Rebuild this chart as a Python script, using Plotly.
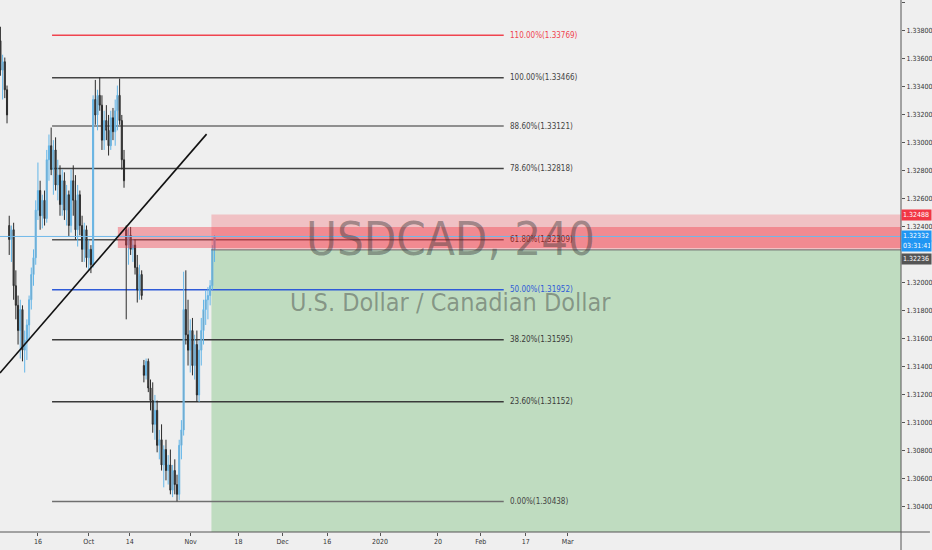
import numpy as np
import plotly.graph_objects as go

# ---------------- data ----------------
opens = [1.3373,1.3352,1.3358,1.3338,1.3241,1.3231,1.3238,1.3198,1.3184,1.3166,
         1.3181,1.3152,1.3159,1.3170,1.3188,1.3206,1.3218,1.3252,1.3266,1.3248,
         1.3259,1.3246,1.3288,1.3298,1.3281,1.3295,1.3270,1.3277,1.3256,1.3273,
         1.3252,1.3263,1.3241,1.3273,1.3259,1.3238,1.3263,1.3241,1.3224,1.3238,
         1.3218,1.3224,1.3213,1.3331,1.3320,1.3334,1.3327,1.3302,1.3316,1.3309,
         1.3298,1.3318,1.3308,1.3323,1.3334,1.3316,1.3288,1.3238,1.3227,1.3234,
         1.3224,1.3227,1.3211,1.3195,1.3206,1.3141,1.3134,1.3144,1.3125,1.3116,
         1.3099,1.3109,1.3084,1.3088,1.3070,1.3081,1.3066,1.3070,1.3052,1.3066,
         1.3056,1.3049,1.3084,1.3095,1.3181,1.3163,1.3152,1.3166,1.3141,1.3156,
         1.3120,1.3152,1.3166,1.3181,1.3188,1.3191,1.3198,1.3224]
highs = [1.3383,1.3363,1.3361,1.3341,1.3248,1.3241,1.3243,1.3209,1.3191,1.3188,
         1.3184,1.3166,1.3174,1.3191,1.3211,1.3224,1.3259,1.3286,1.3273,1.3263,
         1.3266,1.3295,1.3306,1.3311,1.3302,1.3304,1.3288,1.3284,1.3281,1.3279,
         1.3270,1.3266,1.3281,1.3284,1.3277,1.3270,1.3266,1.3248,1.3243,1.3241,
         1.3231,1.3227,1.3334,1.3345,1.3338,1.3347,1.3334,1.3323,1.3327,1.3320,
         1.3323,1.3325,1.3331,1.3341,1.3346,1.3320,1.3295,1.3241,1.3239,1.3240,
         1.3231,1.3231,1.3220,1.3213,1.3209,1.3145,1.3146,1.3146,1.3131,1.3129,
         1.3120,1.3116,1.3095,1.3099,1.3084,1.3088,1.3077,1.3081,1.3070,1.3074,
         1.3063,1.3088,1.3102,1.3208,1.3209,1.3188,1.3174,1.3175,1.3163,1.3166,
         1.3159,1.3175,1.3188,1.3195,1.3197,1.3202,1.3227,1.3234]
lows = [1.3348,1.3331,1.3332,1.3314,1.3220,1.3215,1.3188,1.3174,1.3156,1.3146,
        1.3144,1.3136,1.3145,1.3159,1.3181,1.3198,1.3213,1.3245,1.3238,1.3239,
        1.3241,1.3243,1.3273,1.3277,1.3263,1.3266,1.3259,1.3248,1.3248,1.3245,
        1.3241,1.3233,1.3236,1.3248,1.3231,1.3226,1.3234,1.3215,1.3215,1.3211,
        1.3209,1.3207,1.3211,1.3313,1.3309,1.3323,1.3295,1.3295,1.3302,1.3291,
        1.3295,1.3302,1.3298,1.3309,1.3313,1.3281,1.3268,1.3174,1.3213,1.3220,
        1.3215,1.3206,1.3186,1.3188,1.3188,1.3129,1.3131,1.3122,1.3109,1.3093,
        1.3088,1.3079,1.3074,1.3066,1.3054,1.3059,1.3056,1.3049,1.3047,1.3049,
        1.3044,1.3045,1.3074,1.3091,1.3156,1.3141,1.3136,1.3134,1.3131,1.3115,
        1.3115,1.3141,1.3156,1.3170,1.3174,1.3184,1.3195,1.3215]
closes = [1.3352,1.3358,1.3338,1.3320,1.3231,1.3238,1.3198,1.3184,1.3166,1.3181,
          1.3152,1.3159,1.3170,1.3188,1.3206,1.3218,1.3252,1.3266,1.3248,1.3259,
          1.3246,1.3288,1.3298,1.3281,1.3295,1.3270,1.3277,1.3256,1.3273,1.3252,
          1.3263,1.3241,1.3273,1.3259,1.3238,1.3263,1.3241,1.3224,1.3238,1.3218,
          1.3224,1.3213,1.3331,1.3320,1.3334,1.3327,1.3302,1.3316,1.3309,1.3298,
          1.3318,1.3308,1.3323,1.3334,1.3316,1.3288,1.3273,1.3227,1.3234,1.3224,
          1.3227,1.3211,1.3195,1.3206,1.3191,1.3134,1.3144,1.3125,1.3116,1.3099,
          1.3109,1.3084,1.3088,1.3070,1.3081,1.3066,1.3070,1.3052,1.3066,1.3056,
          1.3049,1.3084,1.3095,1.3181,1.3163,1.3152,1.3166,1.3141,1.3156,1.3120,
          1.3152,1.3166,1.3181,1.3188,1.3191,1.3198,1.3224,1.3233]

# time axis in trading days from Mon 16 Sep 2019, two bars per day shown
bar_days = np.arange(len(closes)) * 0.5 - 8.5

tick_days = [0, 11.5, 20.8, 34.6, 45.4, 55.4, 65.5, 77.5, 90.6, 100.3, 110.5, 120]
tick_text = ["16", "Oct", "14", "Nov", "18", "Dec", "16", "2020", "20", "Feb", "17", "Mar"]

# price scale labels (1.32200 is hidden behind the entry tag in the original)
price_ticks = [1.304, 1.306, 1.308, 1.310, 1.312, 1.314, 1.316, 1.318, 1.320,
               1.324, 1.326, 1.328, 1.330, 1.332, 1.334, 1.336, 1.338, 1.340]

fib_pct = ["110.00%", "100.00%", "88.60%", "78.60%", "61.80%", "50.00%", "38.20%", "23.60%", "0.00%"]
fib_price = [1.33769, 1.33466, 1.33121, 1.32818, 1.32309, 1.31952, 1.31595, 1.31152, 1.30438]
fib_color = ["#f0444f", "#444444", "#6f6f6f", "#444444", "#555555", "#2f5bd8", "#3a3a3a", "#3a3a3a", "#6f6f6f"]
fib_text_color = ["#f0444f", "#444444", "#444444", "#444444", "#8a2a2a", "#2f5bd8", "#3a3a3a", "#3a3a3a", "#444444"]
fib_start_day, fib_end_day, fib_label_day = 3.2, 105.5, 106.4

trend_days = [-8.6, 38.2]
trend_price = [1.31357, 1.33063]

zone_top, zone_bottom, zone_start = 1.32400, 1.32250, 18.1
stop_price, entry_price, current_price = 1.32488, 1.32236, 1.32332
position_start = 39.3
countdown = "03:31:41"

x_min, x_max = -8.59, 195.48
y_min, y_max = 1.30221, 1.34021

FONT = "Liberation Sans Narrow, DejaVu Sans Condensed, sans-serif"

# ---------------- figure ----------------
fig = go.Figure()

fig.add_trace(go.Candlestick(
    x=bar_days, open=opens, high=highs, low=lows, close=closes,
    increasing=dict(line=dict(color="#64b6e8", width=1), fillcolor="#8c8c8c"),
    decreasing=dict(line=dict(color="#2b2b2b", width=1), fillcolor="#4a4a4a"),
    whiskerwidth=0, showlegend=False, hoverinfo="skip",
))

shapes = []
shapes.append(dict(type="rect", xref="x", yref="y", x0=position_start, x1=x_max,
                   y0=y_min, y1=entry_price, fillcolor="rgba(76,175,80,0.29)",
                   line=dict(width=0), layer="below"))
shapes.append(dict(type="rect", xref="x", yref="y", x0=position_start, x1=x_max,
                   y0=entry_price, y1=stop_price, fillcolor="rgba(242,54,69,0.25)",
                   line=dict(width=0), layer="above"))
shapes.append(dict(type="rect", xref="x", yref="y", x0=zone_start, x1=x_max,
                   y0=zone_bottom, y1=zone_top, fillcolor="rgba(242,54,69,0.40)",
                   line=dict(width=0), layer="above"))
for p, c in zip(fib_price, fib_color):
    shapes.append(dict(type="line", xref="x", yref="y", x0=fib_start_day, x1=fib_end_day,
                       y0=p, y1=p, line=dict(color=c, width=1.5), layer="below"))
shapes.append(dict(type="line", xref="x", yref="y", x0=x_min, x1=x_max,
                   y0=current_price, y1=current_price, line=dict(color="#6fb8ea", width=1)))
shapes.append(dict(type="line", xref="x", yref="y", x0=position_start, x1=x_max,
                   y0=entry_price, y1=entry_price, line=dict(color="#6a6a6a", width=1)))
shapes.append(dict(type="line", xref="x", yref="y", x0=trend_days[0], x1=trend_days[1],
                   y0=trend_price[0], y1=trend_price[1], line=dict(color="#111111", width=1.6)))
shapes.append(dict(type="line", xref="paper", yref="paper", x0=0, x1=932/903, y0=0, y1=0,
                   line=dict(color="#555555", width=1)))
shapes.append(dict(type="line", xref="paper", yref="paper", x0=1, x1=1, y0=-18/532, y1=1,
                   line=dict(color="#555555", width=1)))

annotations = []
annotations.append(dict(xref="paper", yref="y", x=0.5, y=1.3232, text="USDCAD, 240",
                        showarrow=False, xanchor="center", yanchor="middle",
                        font=dict(family=FONT, size=47, color="rgba(50,50,50,0.42)")))
annotations.append(dict(xref="paper", yref="y", x=0.5, y=1.3186, text="U.S. Dollar / Canadian Dollar",
                        showarrow=False, xanchor="center", yanchor="middle",
                        font=dict(family=FONT, size=25, color="rgba(50,50,50,0.42)")))
for pct, p, c in zip(fib_pct, fib_price, fib_text_color):
    annotations.append(dict(xref="x", yref="y", x=fib_label_day, y=p,
                            text=f"{pct}({p:.5f})", showarrow=False,
                            xanchor="left", yanchor="middle",
                            font=dict(family=FONT, size=8, color=c)))
tag_font = dict(family=FONT, size=7, color="white")
for txt, yv, bg in [(f"{stop_price:.5f}", stop_price, "#f23645"),
                    (f"{current_price:.5f}", current_price, "#2196f3"),
                    (countdown, current_price - 0.00066, "#2196f3"),
                    (f"{entry_price:.5f}", entry_price - 0.00064, "#555555")]:
    annotations.append(dict(xref="paper", yref="y", x=1, y=yv, text=txt, showarrow=False,
                            xanchor="left", yanchor="middle", bgcolor=bg, borderpad=1,
                            width=27, height=8, align="left", font=tag_font))

fig.update_layout(
    width=932, height=550,
    margin=dict(l=0, r=29, t=0, b=18, pad=0),
    paper_bgcolor="#efefef", plot_bgcolor="#efefef",
    shapes=shapes, annotations=annotations,
    showlegend=False,
    xaxis=dict(range=[x_min, x_max], rangeslider=dict(visible=False),
               tickmode="array", tickvals=tick_days, ticktext=tick_text,
               showgrid=False, zeroline=False, showline=False,
               ticks="outside", ticklen=3, tickcolor="#555555",
               tickfont=dict(family=FONT, size=7, color="#333333")),
    yaxis=dict(range=[y_min, y_max], side="right", tickmode="array",
               tickvals=price_ticks, tickformat=".5f",
               showgrid=False, zeroline=False, showline=False,
               ticks="outside", ticklen=3, tickcolor="#555555",
               tickfont=dict(family=FONT, size=7, color="#333333")),
)

fig.write_html("out.html", config={"displayModeBar": False},
               post_script="document.body.style.margin='0';document.body.style.padding='0';"
                           "document.body.style.background='#efefef';")
